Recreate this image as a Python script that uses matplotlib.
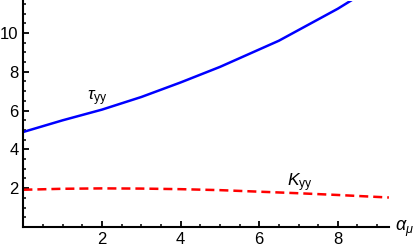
import matplotlib
matplotlib.use("Agg")
import matplotlib.pyplot as plt
import numpy as np
from matplotlib.ticker import MultipleLocator

plt.rcParams['font.family'] = ['Liberation Sans', 'DejaVu Sans']
plt.rcParams['mathtext.fontset'] = 'custom'
plt.rcParams['mathtext.rm'] = 'Liberation Sans'
plt.rcParams['mathtext.it'] = 'Liberation Sans:italic'

# data
alpha = [0, 1, 2, 3, 4, 5, 6, 6.5, 7, 8, 8.4]
tau_yy = [4.9, 5.5, 6.05, 6.7, 7.45, 8.25, 9.15, 9.6, 10.15, 11.25, 11.75]
alpha_k = [0, 1, 2, 3, 4, 5, 6, 7, 8, 9.3]
K_yy = [1.92, 1.97, 1.99, 1.98, 1.95, 1.9, 1.82, 1.74, 1.65, 1.52]
xticks = [2, 4, 6, 8]
yticks = [2, 4, 6, 8, 10]

fig = plt.figure(figsize=(4.15, 2.52), dpi=100)
ax = fig.add_axes([0.0564, 0.0992, 0.8807, 0.897])
ax.plot(alpha, tau_yy, color='#0000ff', lw=1.8, solid_capstyle='butt')
ax.plot(alpha_k, K_yy, color='#ff0000', lw=1.8, dashes=(3.6, 2.0))
ax.set_xlim(0, 9.3)
ax.set_ylim(0, 11.65)
ax.set_xticks(xticks)
ax.set_yticks(yticks)
ax.xaxis.set_minor_locator(MultipleLocator(0.5))
ax.yaxis.set_minor_locator(MultipleLocator(0.5))
for s in ['top', 'right']:
    ax.spines[s].set_visible(False)
for s in ['left', 'bottom']:
    ax.spines[s].set_linewidth(1.5)
ax.tick_params(which='major', direction='in', length=4, width=1.3, labelsize=12, pad=3.5)
ax.tick_params(which='minor', direction='in', length=2.5, width=1.1)
ax.text(1.87, 6.65, r'$\tau_{\mathrm{yy}}$', fontsize=12.5, ha='center', va='center')
ax.text(7.04, 2.3, r'$K_{\mathrm{yy}}$', fontsize=12.5, ha='center', va='center')
ax.text(9.45, -0.1, r'$\alpha_{\mu}$', fontsize=13, ha='left', va='center', clip_on=False)
fig.savefig('out.png', dpi=100)
